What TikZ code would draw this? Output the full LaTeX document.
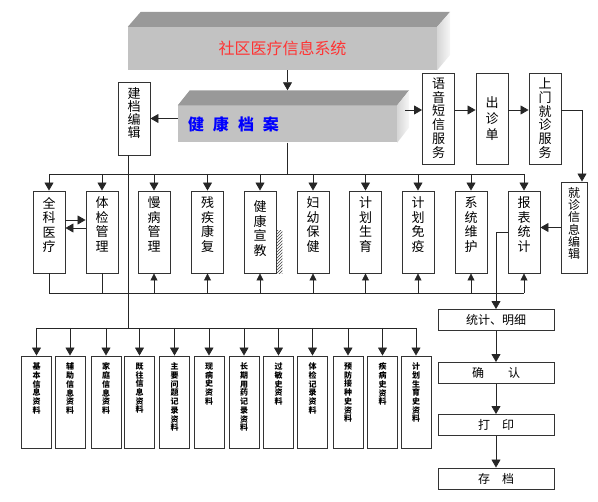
\documentclass[tikz,border=0pt]{standalone}
\usepackage{fontspec}
\setmainfont{Noto Sans CJK SC}
\usetikzlibrary{arrows.meta,positioning,patterns}
\newcommand{\vcol}[2]{\parbox[c][#1][t]{1.2em}{\centering #2}}

\begin{document}
\begin{tikzpicture}[x=1pt,y=-1pt,
  slab/.style={fill=black!24,inner sep=0pt},
  panel/.style={draw=black!80,line width=0.9pt,fill=white,inner sep=0pt,align=center},
  module/.style={panel,minimum width=32,minimum height=82,inner ysep=6pt,
    font=\fontsize{13}{14.5}\selectfont},
  service/.style={panel,minimum width=32,minimum height=91,inner ysep=5pt,
    font=\fontsize{13}{13.7}\selectfont},
  record/.style={panel,minimum width=30,minimum height=92,inner ysep=7pt,
    font=\bfseries\fontsize{8}{8.7}\selectfont},
  stagebox/.style={panel,minimum width=116,minimum height=21,font=\fontsize{12}{12}\selectfont},
  wire/.style={line width=0.8pt,draw=black!85},
  link/.style={wire,-{Triangle[length=8pt,width=9pt]}},
  uplink/.style={wire,-{Triangle[length=7pt,width=7pt]}}]
\useasboundingbox (0,0) rectangle (598,502);
% system and health record slabs
\node[slab,minimum width=309,minimum height=43,text=red!80!white,
  font=\fontsize{16}{16}\selectfont] (sys) at (282.5,48.5) {社区医疗信息系统};
\fill[black!40] (sys.north west) -- ++(13,-15) -- ([xshift=13pt,yshift=15pt]sys.north east)
  -- (sys.north east) -- cycle;
\shade[left color=black!16,right color=black!3] (sys.north east) -- ++(13,-15) -- ++(0,43)
  -- (sys.south east) -- cycle;
\node[slab,minimum width=219,minimum height=37,text width=199,align=left,text=blue,
  font=\bfseries\fontsize{16}{16}\selectfont] (health) at (287.5,124)
  {健\hspace{9pt}康\hspace{9pt}档\hspace{9pt}案};
\fill[black!40] (health.north west) -- ++(12,-15) -- ([xshift=12pt,yshift=15pt]health.north east)
  -- (health.north east) -- cycle;
\shade[left color=black!16,right color=black!3] (health.north east) -- ++(12,-15) -- ++(0,37)
  -- (health.south east) -- cycle;
\node[panel,minimum width=32,minimum height=73,inner ysep=6pt,
  font=\fontsize{13}{13}\selectfont] (jiandang) at (134,118.5) {\vcol{61pt}{建\\档\\编\\辑}};
% services on the right
\node[service] (yuyin) at (438.5,118.5) {\vcol{81pt}{语\\音\\短\\信\\服\\务}};
\node[service,font=\fontsize{13}{16}\selectfont] (chuzhen) at (492,118.5) {出\\诊\\单};
\node[service] (shangmen) at (545,118.5) {\vcol{81pt}{上\\门\\就\\诊\\服\\务}};
\node[service,minimum width=26,font=\fontsize{12}{12.3}\selectfont] (jiuzhen) at (574,227.5)
  {\vcol{81pt}{就\\诊\\信\\息\\编\\辑}};
% function modules
\node[module] (quanke) at (49,232) {\vcol{70pt}{全\\科\\医\\疗}};
\node[module] (tijian) at (102,232) {\vcol{70pt}{体\\检\\管\\理}};
\node[module] (manbing) at (154,232) {\vcol{70pt}{慢\\病\\管\\理}};
\node[module] (canji) at (207.5,232) {\vcol{70pt}{残\\疾\\康\\复}};
\node[module] (xuanjiao) at (260,232) {\vcol{70pt}{\vspace{4pt}健\\康\\宣\\教}};
\node[module] (fuyou) at (313,232) {\vcol{70pt}{妇\\幼\\保\\健}};
\node[module] (shengyu) at (365.5,232) {\vcol{70pt}{计\\划\\生\\育}};
\node[module] (mianyi) at (418,232) {\vcol{70pt}{计\\划\\免\\疫}};
\node[module] (weihu) at (471,232) {\vcol{70pt}{系\\统\\维\\护}};
\node[module] (baobiao) at (524,232) {\vcol{70pt}{报\\表\\统\\计}};
\fill[pattern=north east lines,pattern color=black!75] (xuanjiao.south east) rectangle ++(6,-43);
% report chain
\node[stagebox] (mingxi) at (496,320) {统计、明细};
\node[stagebox] (queren) at (496,373) {确\hspace{2em}认};
\node[stagebox] (dayin) at (496,425) {打\hspace{1em}印};
\node[stagebox] (cundang) at (496,478.5) {存\hspace{1em}档};
% record files
\node[record] (jiben) at (36.5,402) {\vcol{78pt}{基\\本\\信\\息\\资\\料}};
\node[record] (fuzhu) at (70,402) {\vcol{78pt}{辅\\助\\信\\息\\资\\料}};
\node[record] (jiating) at (106,402) {\vcol{78pt}{家\\庭\\信\\息\\资\\料}};
\node[record] (jiwang) at (139.5,402) {\vcol{78pt}{既\\往\\信\\息\\资\\料}};
\node[record] (wenti) at (174.5,402) {\vcol{78pt}{主\\要\\问\\题\\记\\录\\资\\料}};
\node[record] (xianbing) at (209,402) {\vcol{78pt}{现\\病\\史\\资\\料}};
\node[record] (yongyao) at (244,402) {\vcol{78pt}{长\\期\\用\\药\\记\\录\\资\\料}};
\node[record] (guomin) at (278.5,402) {\vcol{78pt}{过\\敏\\史\\资\\料}};
\node[record] (tijianjl) at (312.5,402) {\vcol{78pt}{体\\检\\记\\录\\资\\料}};
\node[record] (jiezhong) at (348,402) {\vcol{78pt}{预\\防\\接\\种\\史\\资\\料}};
\node[record] (jibing) at (382.5,402) {\vcol{78pt}{疾\\病\\史\\资\\料}};
\node[record] (shengyushi) at (416,402) {\vcol{78pt}{计\\划\\生\\育\\史\\资\\料}};
% bus levels
\coordinate (svcline) at (0,110);
\coordinate (topbus) at (0,174);
\coordinate (lowbus) at (0,293);
\coordinate (infobus) at (0,328);
\coordinate (healthside) at ([xshift=8pt]health.east);
\coordinate (jzin) at ([xshift=8pt]jiuzhen.north);
\coordinate (jdout) at ([xshift=-6pt]jiandang.south);
% connectors at the top
\draw[link] (sys.south -| health.north) -- ([yshift=15pt]health.north);
\draw[link] (health.west |- jiandang.east) -- (jiandang.east);
\draw[link] (healthside |- svcline) -- (yuyin.west |- svcline);
\draw[link] (yuyin.east |- svcline) -- (chuzhen.west |- svcline);
\draw[link] (chuzhen.east |- svcline) -- (shangmen.west |- svcline);
\draw[link] (shangmen.east |- svcline) -| (jzin);
\draw[link] (jiuzhen.west) -- (jiuzhen.west -| baobiao.east);
% upper bus
\draw[wire] (health.south) -- (health.south |- topbus);
\draw[wire] (quanke.north |- topbus) -- (baobiao.north |- topbus);
\draw[link] (quanke.north |- topbus) -- (quanke.north);
\draw[link] (tijian.north |- topbus) -- (tijian.north);
\draw[link] (manbing.north |- topbus) -- (manbing.north);
\draw[link] (canji.north |- topbus) -- (canji.north);
\draw[link] (xuanjiao.north |- topbus) -- (xuanjiao.north);
\draw[link] (fuyou.north |- topbus) -- (fuyou.north);
\draw[link] (shengyu.north |- topbus) -- (shengyu.north);
\draw[link] (mianyi.north |- topbus) -- (mianyi.north);
\draw[link] (weihu.north |- topbus) -- (weihu.north);
\draw[link] (baobiao.north |- topbus) -- (baobiao.north);
\draw[link] ([yshift=12pt]quanke.east) -- ([yshift=12pt]tijian.west);
\draw[link] ([yshift=4pt]tijian.west) -- ([yshift=4pt]quanke.east);
% lower bus
\draw[wire] (quanke.south) -- (quanke.south |- lowbus) -- (baobiao.south |- lowbus);
\draw[wire] (tijian.south) -- (tijian.south |- lowbus);
\draw[uplink] (manbing.south |- lowbus) -- (manbing.south);
\draw[uplink] (canji.south |- lowbus) -- (canji.south);
\draw[uplink] (xuanjiao.south |- lowbus) -- (xuanjiao.south);
\draw[uplink] (fuyou.south |- lowbus) -- (fuyou.south);
\draw[uplink] (shengyu.south |- lowbus) -- (shengyu.south);
\draw[uplink] (mianyi.south |- lowbus) -- (mianyi.south);
\draw[uplink] (weihu.south |- lowbus) -- (weihu.south);
\draw[uplink] (baobiao.south |- lowbus) -- (baobiao.south);
% report chain
\draw[link] (baobiao.west) -| (mingxi.north);
\draw[link] (mingxi) -- (queren);
\draw[link] (queren) -- (dayin);
\draw[link] (dayin) -- (cundang);
% record bus
\draw[wire] (jdout) -- (jdout |- infobus);
\draw[wire] (jiben.north |- infobus) -- (shengyushi.north |- infobus);
\draw[link] (jiben.north |- infobus) -- (jiben.north);
\draw[link] (fuzhu.north |- infobus) -- (fuzhu.north);
\draw[link] (jiating.north |- infobus) -- (jiating.north);
\draw[link] (jiwang.north |- infobus) -- (jiwang.north);
\draw[link] (wenti.north |- infobus) -- (wenti.north);
\draw[link] (xianbing.north |- infobus) -- (xianbing.north);
\draw[link] (yongyao.north |- infobus) -- (yongyao.north);
\draw[link] (guomin.north |- infobus) -- (guomin.north);
\draw[link] (tijianjl.north |- infobus) -- (tijianjl.north);
\draw[link] (jiezhong.north |- infobus) -- (jiezhong.north);
\draw[link] (jibing.north |- infobus) -- (jibing.north);
\draw[link] (shengyushi.north |- infobus) -- (shengyushi.north);
\end{tikzpicture}
\end{document}
